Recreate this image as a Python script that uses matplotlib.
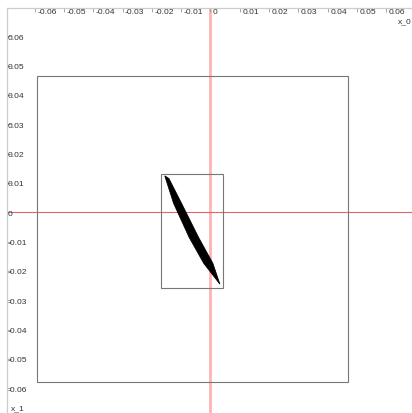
import matplotlib
matplotlib.use('Agg')
import matplotlib.pyplot as plt
import matplotlib.transforms as mtransforms
from matplotlib.patches import Rectangle, Polygon

# tick values on both axes
x_ticks = [-0.06, -0.05, -0.04, -0.03, -0.02, -0.01, 0, 0.01, 0.02, 0.03, 0.04, 0.05, 0.06]
y_ticks = [0.06, 0.05, 0.04, 0.03, 0.02, 0.01, 0, -0.01, -0.02, -0.03, -0.04, -0.05, -0.06]
x_tick_labels = ['-0.06', '-0.05', '-0.04', '-0.03', '-0.02', '-0.01', '0', '0.01', '0.02', '0.03', '0.04', '0.05', '0.06']
y_tick_labels = ['0.06', '0.05', '0.04', '0.03', '0.02', '0.01', '0', '-0.01', '-0.02', '-0.03', '-0.04', '-0.05', '-0.06']

# boxes: (x_min, y_min, x_max, y_max)
outer_box = (-0.0592, -0.0580, 0.0469, 0.0464)
inner_box = (-0.0169, -0.0259, 0.0043, 0.0130)

# the thin sliver: left edge top->bottom, right edge bottom->top
sliver_left_x = [-0.01560, -0.01260, -0.00730, -0.00230, 0.00320]
sliver_left_y = [0.01240, 0.00307, -0.00853, -0.01741, -0.02450]
sliver_right_x = [0.00320, 0.00080, -0.00410, -0.00990, -0.01420]
sliver_right_y = [-0.02450, -0.01741, -0.00853, 0.00307, 0.01150]

fig = plt.figure(figsize = (4.12, 4.13), dpi = 100)
ax = fig.add_axes([7 / 412, 0, 405 / 412, 405 / 413])
ax.set_xlim(-0.06945, 0.06877)
ax.set_ylim(-0.06843, 0.06962)

for side in ['bottom', 'right']:
    ax.spines[side].set_visible(False)
for side in ['top', 'left']:
    ax.spines[side].set_color('#cccccc')
    ax.spines[side].set_linewidth(0.9)

ax.xaxis.tick_top()
ax.set_xticks(x_ticks)
ax.set_yticks(y_ticks)
ax.tick_params(direction = 'in', length = 3, width = 0.6, color = '#999999', labeltop = False, labelleft = False)

font = {'family': 'Liberation Sans', 'size': 6.1, 'color': '#333333'}
xt = mtransforms.offset_copy(ax.get_xaxis_transform(), fig = fig, x = 2.5, y = -4.5, units = 'dots')
for v, s in zip(x_ticks, x_tick_labels):
    ax.text(v, 1, s, transform = xt, ha = 'left', va = 'center', **font)
yt = mtransforms.offset_copy(ax.get_yaxis_transform(), fig = fig, x = 1, y = -2, units = 'dots')
for v, s in zip(y_ticks, y_tick_labels):
    ax.text(0, v, s, transform = yt, ha = 'left', va = 'center', **font)

# axis names
ax.text(0.999, 0.966, 'x_0', transform = ax.transAxes, ha = 'right', va = 'center', **font)
ax.text(0.01, 0.01, 'x_1', transform = ax.transAxes, ha = 'left', va = 'center', **font)

# zero lines
ax.axvline(0, color = '#ffb3b3', linewidth = 2.0, zorder = 1)
ax.axhline(0, color = '#e06666', linewidth = 0.8, zorder = 1)

for b in [outer_box, inner_box]:
    ax.add_patch(Rectangle((b[0], b[1]), b[2] - b[0], b[3] - b[1], fill = False, edgecolor = '#777777', linewidth = 0.8, zorder = 2))

ax.add_patch(Polygon(list(zip(sliver_left_x + sliver_right_x, sliver_left_y + sliver_right_y)), closed = True, facecolor = 'black', edgecolor = 'black', linewidth = 0.6, zorder = 3))

plt.savefig('out.png', dpi = 100)
